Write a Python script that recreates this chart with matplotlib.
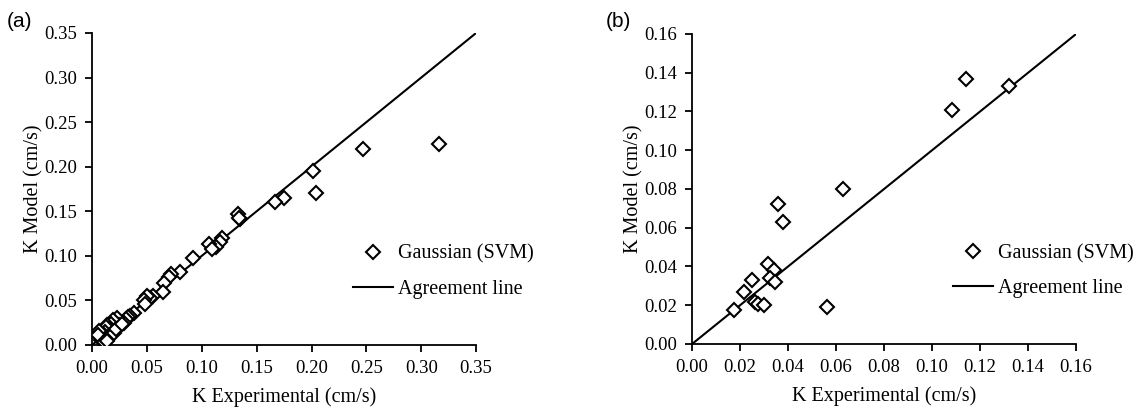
import numpy as np
import matplotlib.pyplot as plt

# panel (a) - training data
a_exp = [0.316, 0.247, 0.201, 0.204, 0.175, 0.167, 0.133, 0.135, 0.134, 0.118,
         0.117, 0.113, 0.107, 0.109, 0.092, 0.080, 0.072, 0.070, 0.066, 0.065,
         0.056, 0.053, 0.050, 0.047, 0.048, 0.038, 0.035, 0.033, 0.031, 0.029,
         0.023, 0.025, 0.019, 0.017, 0.014, 0.015, 0.013, 0.012, 0.010, 0.009,
         0.006, 0.008, 0.005, 0.016, 0.018, 0.020, 0.022, 0.027, 0.011, 0.014]
a_mod = [0.226, 0.220, 0.195, 0.170, 0.165, 0.160, 0.147, 0.141, 0.143, 0.120,
         0.115, 0.110, 0.113, 0.108, 0.098, 0.082, 0.080, 0.076, 0.070, 0.060,
         0.055, 0.053, 0.055, 0.050, 0.046, 0.036, 0.033, 0.031, 0.029, 0.025,
         0.030, 0.022, 0.028, 0.024, 0.022, 0.018, 0.020, 0.015, 0.012, 0.010,
         0.016, 0.006, 0.011, 0.010, 0.013, 0.014, 0.018, 0.023, 0.003, 0.005]

# panel (b) - testing data
b_exp = [0.132, 0.114, 0.1085, 0.063, 0.036, 0.038, 0.0315, 0.0343, 0.0325,
         0.0346, 0.0248, 0.0218, 0.0264, 0.0275, 0.030, 0.0175, 0.0564]
b_mod = [0.133, 0.137, 0.121, 0.080, 0.072, 0.063, 0.0415, 0.0383, 0.0343,
         0.0321, 0.033, 0.0266, 0.0218, 0.0206, 0.020, 0.0175, 0.0192]

plt.rcParams['font.family'] = 'Liberation Serif'

fig = plt.figure(figsize=(11.42, 4.15), dpi=100)
ax1 = fig.add_axes([0.0806, 0.1687, 0.3363, 0.7518])
ax2 = fig.add_axes([0.6060, 0.1711, 0.3363, 0.7470])

panels = [(ax1, a_exp, a_mod, 0.35, np.arange(0, 0.351, 0.05)),
          (ax2, b_exp, b_mod, 0.16, np.arange(0, 0.161, 0.02))]

for ax, xe, ym, lim, ticks in panels:
    ax.plot(xe, ym, linestyle='none', marker='D', markersize=7.5,
            markerfacecolor='white', markeredgecolor='black',
            markeredgewidth=1.5, label='Gaussian (SVM)', zorder=3)
    ax.plot([0, lim], [0, lim], color='black', linewidth=1.5,
            label='Agreement line', zorder=2)
    ax.set_xlim(0, lim)
    ax.set_ylim(0, lim)
    ax.set_xticks(ticks)
    ax.set_yticks(ticks)
    ax.xaxis.set_major_formatter(plt.FormatStrFormatter('%.2f'))
    ax.yaxis.set_major_formatter(plt.FormatStrFormatter('%.2f'))
    ax.spines['top'].set_visible(False)
    ax.spines['right'].set_visible(False)
    ax.spines['left'].set_linewidth(1.3)
    ax.spines['bottom'].set_linewidth(1.3)
    ax.tick_params(direction='out', length=5, width=1.3, labelsize=13.5, pad=6)
    ax.set_xlabel('K Experimental (cm/s)', fontsize=14.5, labelpad=7)
    ax.set_ylabel('K Model (cm/s)', fontsize=14.5, labelpad=0)
    ax.legend(loc='center left', bbox_to_anchor=(0.68, 0.235), frameon=False,
              fontsize=14.5, handlelength=2.0, handletextpad=0.2,
              labelspacing=0.8, borderpad=0, borderaxespad=0)

fig.text(0.006, 0.935, '(a)', fontsize=15, family='Liberation Sans')
fig.text(0.530, 0.935, '(b)', fontsize=15, family='Liberation Sans')

fig.savefig('out.png', dpi=100)
